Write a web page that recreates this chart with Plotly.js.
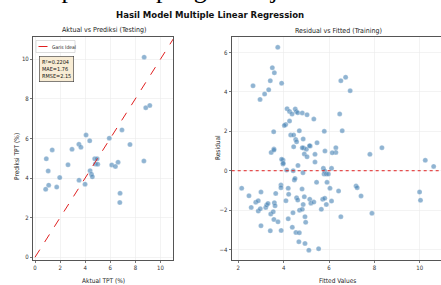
<!DOCTYPE html>
<html>
<head>
<meta charset="utf-8">
<script src="https://cdn.plot.ly/plotly-3.0.1.min.js"></script>
<style>
html,body{margin:0;padding:0;overflow:hidden;background:#fff;width:441px;height:285px;}
#chart{width:445px;height:285px;}
</style>
</head>
<body>
<div id="chart"></div>
<script>
// Testing: actual vs predicted TPT (%)
const testActual = [8.70,8.83,9.15,4.07,6.93,5.92,4.36,3.50,3.66,2.95,1.37,7.57,0.90,4.76,4.95,2.63,4.81,5.00,6.12,6.41,6.62,8.68,1.05,4.39,4.50,4.57,1.97,3.51,3.99,1.09,0.85,1.73,6.78,6.76];
const testPred   = [10.10,7.55,7.66,6.17,6.43,6.01,5.88,5.70,5.55,5.45,5.42,5.69,4.97,4.97,4.97,4.67,4.71,4.70,4.66,4.58,4.80,4.86,4.36,4.37,4.19,4.06,4.02,3.89,3.69,3.64,3.43,3.54,3.23,2.76];
const idealLine = [0, 11.2];

// Training: fitted values vs residuals
const trainFitted = [3.74,3.50,3.59,3.41,3.91,2.65,3.34,3.16,2.96,4.15,4.26,4.51,4.56,4.37,4.62,4.82,5.03,5.33,4.26,4.09,4.03,3.56,4.69,5.79,4.31,4.44,4.53,4.57,4.86,5.47,3.57,6.52,6.73,6.93,6.47,6.58,6.30,6.30,6.14,5.82,5.38,5.17,4.88,5.00,4.91,5.03,4.44,3.45,3.57,7.80,8.33,10.24,3.97,10.61,3.97,4.63,4.13,4.42,4.85,5.38,5.75,5.81,5.78,5.88,5.97,6.11,2.15,2.47,2.57,2.77,2.88,2.88,2.97,3.00,3.00,3.21,3.25,3.31,3.43,3.54,3.65,3.59,3.62,3.57,3.75,3.41,3.88,3.88,3.89,4.10,4.20,4.22,4.47,4.50,4.20,4.41,4.38,4.54,4.69,4.57,4.62,4.70,4.82,4.86,4.81,4.91,4.94,4.97,4.94,4.67,5.11,5.15,5.20,5.33,5.45,5.66,5.72,5.81,5.91,5.88,6.04,6.11,6.42,6.52,5.54,7.19,7.24,7.41,7.89,9.99,10.03,5.14,4.82,3.91,3.98];
const trainResid = [6.26,5.23,4.97,4.57,4.44,4.31,4.11,3.89,3.62,3.15,3.01,3.13,3.00,2.88,2.94,2.93,2.84,2.62,2.52,2.34,2.30,1.98,2.03,2.00,1.81,1.81,1.59,1.47,1.61,1.42,1.10,4.57,4.74,4.06,2.88,2.03,1.17,0.93,0.91,1.00,0.83,1.25,1.15,1.09,0.85,0.71,1.22,0.93,1.05,0.83,1.17,0.53,0.54,0.22,0.34,0.27,0.04,0.00,-0.10,0.44,0.12,-0.02,-0.17,-0.17,-0.17,0.12,-0.89,-1.27,-1.86,-1.60,-1.52,-2.05,-1.93,-1.08,-2.79,-1.86,-1.74,-1.66,-2.20,-2.08,-1.15,-1.62,-1.78,-2.47,-2.59,-3.05,-0.73,-0.86,-3.03,-1.52,-0.89,-1.20,-0.47,-0.39,-2.44,-2.13,-2.87,-3.13,-3.15,-1.37,-1.49,-2.00,-1.96,-1.71,-0.93,-1.32,-2.33,-2.62,-3.69,-3.60,-4.03,-1.45,-1.65,-1.59,-0.59,-1.96,-1.45,-1.40,-0.59,-1.71,-0.89,-1.54,-1.03,-2.33,-3.96,-0.78,-0.86,-1.28,-2.16,-1.08,-1.50,1.27,1.17,0.58,0.38];

const statsLines = ["R²=0.2204","MAE=1.76","RMSE=2.15"];
const W = 445, H = 285;
const px = v => v / W;
const py = v => 1 - v / H;
const FONT = "DejaVu Sans Condensed, Liberation Sans Narrow, DejaVu Sans, sans-serif";
const ptColor = 'rgba(70,130,180,0.6)';

const traces = [
  {x: testActual, y: testPred, type:'scatter', mode:'markers', xaxis:'x', yaxis:'y',
   marker:{color:ptColor, size:5, line:{color:'rgba(255,255,255,0.6)', width:0.4}}, showlegend:false},
  {x: idealLine, y: idealLine, type:'scatter', mode:'lines', xaxis:'x', yaxis:'y', name:'Garis Ideal',
   line:{color:'#e02020', width:1, dash:'dash'}, showlegend:false},
  {x: trainFitted, y: trainResid, type:'scatter', mode:'markers', xaxis:'x2', yaxis:'y2',
   marker:{color:ptColor, size:5, line:{color:'rgba(255,255,255,0.6)', width:0.4}}, showlegend:false}
];

const axBase = {
  showgrid:true, gridcolor:'#ebebeb', gridwidth:0.6, zeroline:false,
  showline:true, linecolor:'#555', linewidth:1, mirror:true,
  ticks:'outside', ticklen:2, tickcolor:'#555', tickwidth:0.8,
  tickfont:{family:FONT, size:6, color:'#333'}
};
const layout = {
  width: W, height: H,
  margin:{l:0,r:0,t:0,b:0},
  paper_bgcolor:'#fff', plot_bgcolor:'#fff',
  showlegend:false,
  xaxis: Object.assign({}, axBase, {domain:[px(33), px(173)], range:[-0.16, 11.0], dtick:2, anchor:'y'}),
  yaxis: Object.assign({}, axBase, {domain:[1-260/H, 1-37/H], range:[-0.14, 11.12], dtick:2, anchor:'x'}),
  xaxis2: Object.assign({}, axBase, {domain:[px(231.7), 1], range:[1.71, 11.11], dtick:2, anchor:'y2'}),
  yaxis2: Object.assign({}, axBase, {domain:[1-260/H, 1-37.3/H], range:[-4.53, 6.77], dtick:2, anchor:'x2'}),
  shapes:[
    {type:'line', xref:'x2 domain', x0:0, x1:1, yref:'y2', y0:0, y1:0, line:{color:'#e02020', width:1, dash:'dot'}},
    // legend frame
    {type:'rect', xref:'paper', yref:'paper', x0:px(36), x1:px(75), y0:py(52.5), y1:py(40.5),
     fillcolor:'rgba(255,255,255,0.92)', line:{color:'#cfcfcf', width:0.7}},
    // legend sample line
    {type:'line', xref:'paper', yref:'paper', x0:px(38.5), x1:px(47.5), y0:py(46.5), y1:py(46.5), line:{color:'#e02020', width:1, dash:'dash'}}
  ],
  annotations:[
    {text:'menciptakan lapangan kerja.', xref:'paper', yref:'paper', x:px(298), y:py(-27), xanchor:'right', yanchor:'top',
     showarrow:false, font:{family:'Liberation Serif, DejaVu Serif, serif', size:26, color:'#000'}},
    {text:'<b>Hasil Model Multiple Linear Regression</b>', xref:'paper', yref:'paper', x:px(210), y:py(14), xanchor:'center', yanchor:'middle',
     showarrow:false, font:{family:FONT, size:9.5, color:'#111'}},
    {text:'Aktual vs Prediksi (Testing)', xref:'paper', yref:'paper', x:px(103.5), y:py(30), xanchor:'center', yanchor:'middle',
     showarrow:false, font:{family:FONT, size:7, color:'#222'}},
    {text:'Residual vs Fitted (Training)', xref:'paper', yref:'paper', x:px(338), y:py(30.5), xanchor:'center', yanchor:'middle',
     showarrow:false, font:{family:FONT, size:7, color:'#222'}},
    {text:'Aktual TPT (%)', xref:'paper', yref:'paper', x:px(103.5), y:py(281), xanchor:'center', yanchor:'middle',
     showarrow:false, font:{family:FONT, size:6.5, color:'#222'}},
    {text:'Fitted Values', xref:'paper', yref:'paper', x:px(337), y:py(281), xanchor:'center', yanchor:'middle',
     showarrow:false, font:{family:FONT, size:6.5, color:'#222'}},
    {text:'Prediksi TPT (%)', xref:'paper', yref:'paper', x:px(17), y:py(157), xanchor:'center', yanchor:'middle', textangle:-90,
     showarrow:false, font:{family:FONT, size:6.5, color:'#222'}},
    {text:'Residual', xref:'paper', yref:'paper', x:px(218), y:py(148), xanchor:'center', yanchor:'middle', textangle:-90,
     showarrow:false, font:{family:FONT, size:6.5, color:'#222'}},
    // legend label
    {text:'Garis Ideal', xref:'paper', yref:'paper', x:px(49.5), y:py(46.5), xanchor:'left', yanchor:'middle',
     showarrow:false, align:'left', font:{family:FONT, size:5, color:'#222'}},
    // stats box
    {text: statsLines.join('<br>'), xref:'paper', yref:'paper', x:px(39.3), y:py(56), xanchor:'left', yanchor:'top',
     showarrow:false, align:'left', font:{family:FONT, size:5.5, color:'#111'},
     bgcolor:'#f8ecd4', bordercolor:'#333', borderwidth:0.6, borderpad:2.5}
  ]
};
Plotly.newPlot('chart', traces, layout, {displayModeBar:false, staticPlot:true});
</script>
</body>
</html>
